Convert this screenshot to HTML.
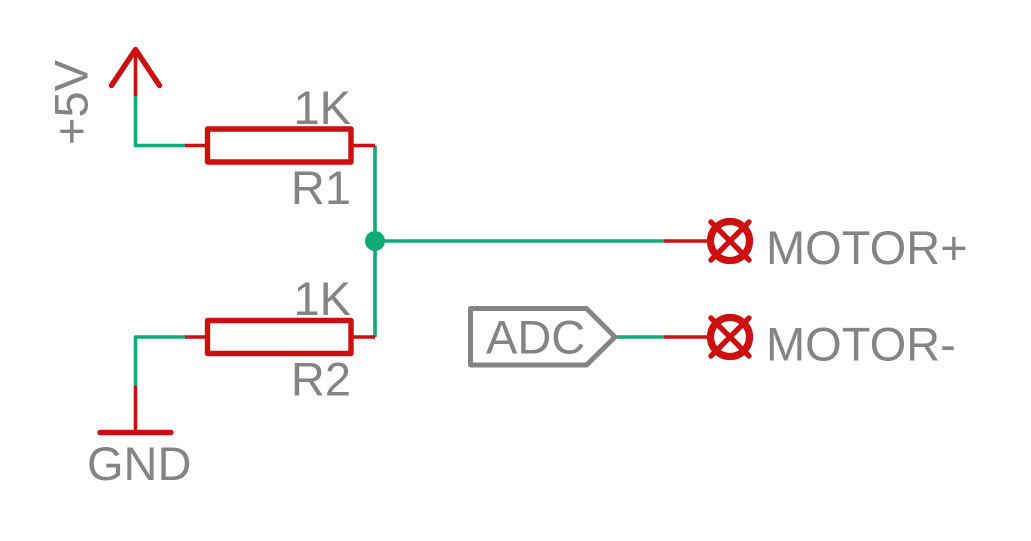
<!DOCTYPE html>
<html><head><meta charset="utf-8"><style>html,body{margin:0;padding:0;background:#fff}svg{display:block}text{font-family:"Liberation Sans",sans-serif;font-size:47px;fill:#848484}</style></head><body>
<svg width="1031" height="541" viewBox="0 0 1031 541" xmlns="http://www.w3.org/2000/svg">
<g fill="none" stroke="#10ac78" stroke-width="3.6" stroke-linecap="butt" stroke-linejoin="round">
<path d="M135.5 96V145.5H185"/>
<path d="M375 145.5V337"/>
<path d="M375 241H664"/>
<path d="M135.5 385.7V337H185"/>
<path d="M615 337H664"/>
</g>
<circle cx="375" cy="241" r="10" fill="#10ac78"/>
<g fill="none" stroke="#cc0f0f" stroke-width="3.6" stroke-linecap="butt">
<path d="M135.5 49V96"/>
<path d="M185 145.5H207M352 145.5H375"/>
<path d="M185 337H207M352 337H375"/>
<path d="M135.5 385.7V432"/>
<path d="M664 241H707M664 337H707"/>
</g>
<g fill="none" stroke="#cc0f0f" stroke-width="5.4" stroke-linecap="round" stroke-linejoin="round">
<path d="M111.5 85.5L135.5 49.5L159.5 85.5"/>
<rect x="207.5" y="129" width="143.5" height="33"/>
<rect x="207.5" y="320.5" width="143.5" height="33"/>
<path d="M100 432.5H171"/>
</g>
<g fill="none" stroke="#cc0f0f" stroke-linecap="round">
<circle cx="730" cy="241" r="19.5" stroke-width="7.2"/>
<path d="M711 222L749 260M711 260L749 222" stroke-width="5.4"/>
<circle cx="730" cy="337" r="19.5" stroke-width="7.2"/>
<path d="M711 318L749 356M711 356L749 318" stroke-width="5.4"/>
</g>
<path d="M470.5 308.5H586.5L615 337L586.5 365H470.5Z" fill="none" stroke="#848484" stroke-width="5" stroke-linejoin="round"/>
<text x="351" y="124" text-anchor="end">1K</text>
<text x="351" y="204" text-anchor="end">R1</text>
<text x="351" y="315" text-anchor="end">1K</text>
<text x="351" y="395.5" text-anchor="end">R2</text>
<text x="87" y="480">GND</text>
<text x="766" y="264">MOTOR+</text>
<text x="766" y="360.5">MOTOR-</text>
<text x="486" y="353.5">ADC</text>
<text transform="translate(87.5 145) rotate(-90)">+5V</text>
</svg>
</body></html>
